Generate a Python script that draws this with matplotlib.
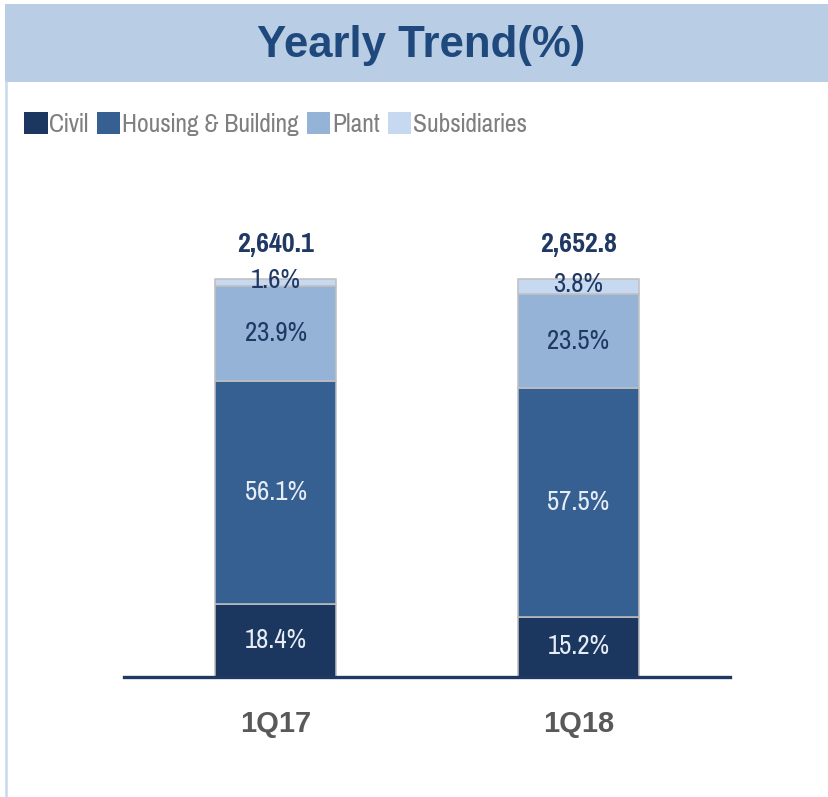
import matplotlib
matplotlib.use("Agg")
import matplotlib.pyplot as plt
from matplotlib.patches import Rectangle
from matplotlib import font_manager

categories = ["1Q17", "1Q18"]
series_names = ["Civil", "Housing & Building", "Plant", "Subsidiaries"]
civil = [18.4, 15.2]
housing = [56.1, 57.5]
plant = [23.9, 23.5]
subsidiaries = [1.6, 3.8]
totals = ["2,640.1", "2,652.8"]
title = "Yearly Trend(%)"

colors = ["#1b365f", "#376092", "#95b3d7", "#c6d9f1"]
label_colors = ["#e6edf5", "#e6edf5", "#1f3864", "#1f3864"]

names = {f.name for f in font_manager.fontManager.ttflist}
narrow = [n for n in ["Liberation Sans Narrow", "Pragati Narrow", "Roboto Condensed", "Liberation Sans"]
          if n in names] + ["DejaVu Sans"]
narrow = narrow[:1] + ["DejaVu Sans"]
bold_font = [n for n in ["Liberation Sans", "Arimo"] if n in names] + ["DejaVu Sans"]

W, H = 829, 797
fig = plt.figure(figsize=(W / 100, H / 100), dpi=100)

# title band
fig.patches.append(Rectangle((5 / W, 1 - 82 / H), 1 - 5 / W, 78 / H,
                             transform=fig.transFigure, facecolor="#b9cde5",
                             edgecolor="none", zorder=0))
# left border line
fig.add_artist(plt.Line2D([6.5 / W, 6.5 / W], [0, 1 - 82 / H], transform=fig.transFigure,
                          color="#c6d9f1", lw=1.8))
fig.text(421 / W, 1 - 45 / H, title, ha="center", va="center", fontsize=31.5,
         fontweight="bold", color="#1f497d", family=bold_font)

# axes: baseline at y=677 px, x from 124 to 730 px
ax_bottom = 1 - 677 / H
ax = fig.add_axes([124 / W, ax_bottom, (730 - 124) / W, 0.599])
ax.set_xlim(-0.5, 1.5)
ax.set_ylim(0, 120)

x = list(range(len(categories)))
series = [civil, housing, plant, subsidiaries]
bottoms = [0.0] * len(categories)
handles = []
for vals, name, col, lc in zip(series, series_names, colors, label_colors):
    bars = ax.bar(x, vals, width=0.399, bottom=bottoms, color=col,
                  edgecolor="#bfbfbf", linewidth=1.1, label=name, zorder=2)
    handles.append(bars)
    for xi, v, b in zip(x, vals, bottoms):
        ax.text(xi, b + v / 2 + (0.5 if v < 5 else 0), f"{v:.1f}%", ha="center", va="center",
                fontsize=21, color=lc, family=narrow, zorder=3)
    bottoms = [b + v for b, v in zip(bottoms, vals)]

for xi, t, b in zip(x, totals, bottoms):
    ax.text(xi, b + 8.6, t, ha="center", va="center", fontsize=22,
            fontweight="bold", color="#1f3864", family=narrow)

for s in ["top", "right", "left"]:
    ax.spines[s].set_visible(False)
ax.spines["bottom"].set_color("#1f3864")
ax.spines["bottom"].set_linewidth(2.4)
ax.spines["bottom"].set_zorder(4)
ax.set_yticks([])
ax.set_xticks(x)
ax.set_xticklabels(categories, fontsize=21, fontweight="bold", color="#595959",
                   family=bold_font)
ax.tick_params(axis="x", length=0, pad=24)
ax.patch.set_alpha(0)

leg = fig.legend(handles=[h[0] for h in handles], labels=series_names,
                 loc="center left", bbox_to_anchor=(24 / W, 1 - 124 / H), ncol=4,
                 frameon=False, prop={"family": narrow, "size": 20},
                 handlelength=0.85, handleheight=0.85, handletextpad=0.05,
                 columnspacing=0.3, borderaxespad=0, borderpad=0)
for t in leg.get_texts():
    t.set_color("#7f7f7f")
for p in leg.get_patches():
    p.set_edgecolor("none")

fig.savefig("out.png", dpi=100, facecolor="white")
